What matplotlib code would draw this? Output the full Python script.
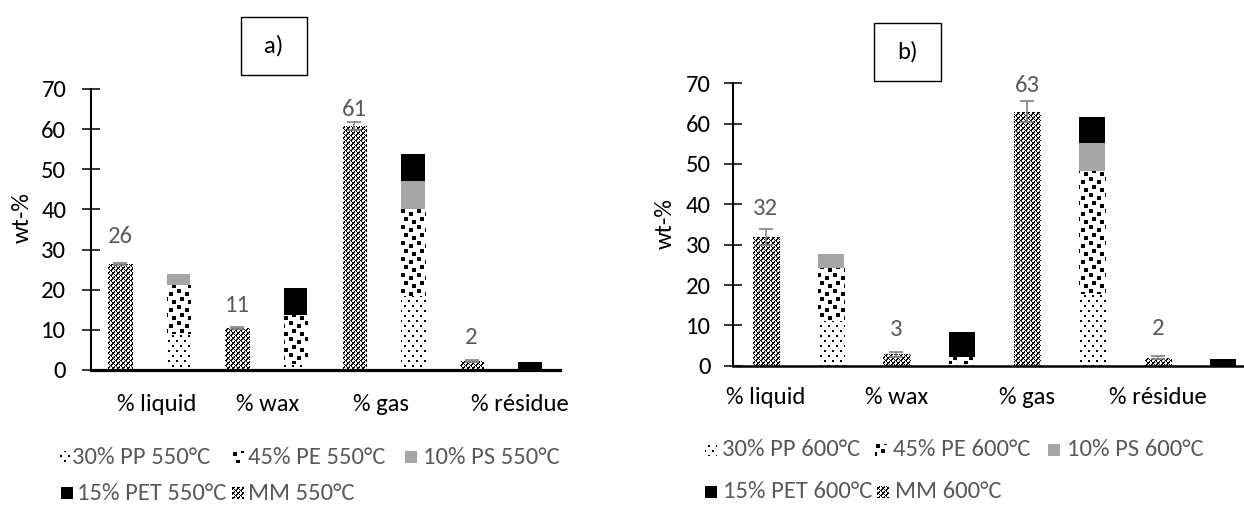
import matplotlib
matplotlib.use("Agg")
import matplotlib.pyplot as plt
import numpy as np
from matplotlib import font_manager as fm
from matplotlib.patches import Rectangle

# ---------------- data ----------------
categories = ['% liquid', '% wax', '% gas', '% résidue']
yticks = [0, 10, 20, 30, 40, 50, 60, 70]

# panel a) 550 °C
a_mm = [26.4, 10.4, 60.8, 2.3]
a_mm_err = [0.3, 0.3, 1.0, 0.3]
a_mm_labels = ['26', '11', '61', '2']
a_pp = [9.3, 1.7, 18.8, 0.0]
a_pe = [11.9, 12.1, 21.4, 0.0]
a_ps = [2.8, 0.0, 7.0, 0.0]
a_pet = [0.0, 6.7, 6.5, 1.9]
a_legend = ['30% PP 550°C', '45% PE 550°C', '10% PS 550°C', '15% PET 550°C', 'MM 550°C']

# panel b) 600 °C
b_mm = [32.0, 2.8, 63.0, 2.0]
b_mm_err = [2.0, 0.7, 2.6, 0.3]
b_mm_labels = ['32', '3', '63', '2']
b_pp = [11.3, 0.6, 18.0, 0.0]
b_pe = [13.0, 1.5, 30.3, 0.0]
b_ps = [3.4, 0.0, 6.8, 0.0]
b_pet = [0.0, 6.2, 6.5, 1.7]
b_legend = ['30% PP 600°C', '45% PE 600°C', '10% PS 600°C', '15% PET 600°C', 'MM 600°C']

# ---------------- style ----------------
names = {f.name for f in fm.fontManager.ttflist}
FONT = 'Carlito' if 'Carlito' in names else 'Lato'
plt.rcParams['font.family'] = [FONT, 'DejaVu Sans']

W, H, DPI = 1244, 508, 100
PX2PT = 72.0 / DPI
PS_COLOR = '#a5a5a5'
PET_COLOR = '#000000'
GREY_TXT = '#595959'
ERR_COLOR = '#808080'

fig = plt.figure(figsize=(W / DPI, H / DPI), dpi=DPI)
fig.patch.set_facecolor('white')


def fit_size(text, target_px):
    t = fig.text(0, 0, text, fontsize=20)
    r = fig.canvas.get_renderer()
    w = t.get_window_extent(r).width
    t.remove()
    return 20 * target_px / w


FS = fit_size('30% PP 550°C', 138)


# ---------------- textures (pixel patterns) ----------------
def tile_pp():
    t = np.zeros((10, 8), bool)
    t[0:2, 0:2] = True
    t[5:7, 4:6] = True
    return t


def tile_pe():
    t = np.zeros((16, 16), bool)
    for r, c in [(1, 1), (4, 9), (9, 4), (12, 12)]:
        for dr in range(4):
            for dc in range(4):
                t[(r + dr) % 16, (c + dc) % 16] = True
    return t


def tile_mm():
    r, c = np.mgrid[0:5, 0:5]
    return (((r - c) % 5) == 0) | (((r + c) % 5) == 0) | (((r + c) % 5) == 1) & ((r % 2) == 0)


def full_texture(tile):
    th, tw = tile.shape
    big = np.tile(tile, (H // th + 2, W // tw + 2))[:H, :W]
    img = np.where(big[..., None], 0, 255).astype(np.uint8)
    return np.repeat(img, 3, axis=2)


TEX = {'pp': full_texture(tile_pp()), 'pe': full_texture(tile_pe()),
       'mm': full_texture(tile_mm())}


def texture_bars(container, key):
    for p in container.patches:
        if p.get_height() <= 0:
            continue
        im = fig.figimage(TEX[key], 0, 0, zorder=1, origin='upper')
        im.set_clip_path(p)


def make_axes(l, t, r, b):
    ax = fig.add_axes([l / W, (H - b) / H, (r - l) / W, (b - t) / H])
    ax.set_facecolor('none')
    ax.set_zorder(2)
    return ax


def draw_panel(ax, mm, mm_err, mm_labels, pp, pe, ps, pet, label_off_px,
               tick_shift, xpad, ypad, bottom_lw):
    x = np.arange(len(categories))
    w = 0.2
    ax.set_xlim(-0.5, len(categories) - 0.5)
    ax.set_ylim(0, 70)

    c_mm = ax.bar(x - 0.25, mm, w, color='none', edgecolor='none')
    texture_bars(c_mm, 'mm')
    pp = np.array(pp); pe = np.array(pe); ps = np.array(ps); pet = np.array(pet)
    c_pp = ax.bar(x + 0.25, pp, w, color='none', edgecolor='none')
    texture_bars(c_pp, 'pp')
    c_pe = ax.bar(x + 0.25, pe, w, bottom=pp, color='none', edgecolor='none')
    texture_bars(c_pe, 'pe')
    ax.bar(x + 0.25, ps, w, bottom=pp + pe, color=PS_COLOR, edgecolor='none')
    ax.bar(x + 0.25, pet, w, bottom=pp + pe + ps, color=PET_COLOR, edgecolor='none')

    ax.errorbar(x - 0.25, mm, yerr=mm_err, fmt='none', ecolor=ERR_COLOR,
                elinewidth=1.2, capsize=5, capthick=1.2, zorder=5)
    for xi, v, lbl, off in zip(x, mm, mm_labels, label_off_px):
        ax.annotate(lbl, xy=(xi - 0.25, v), xytext=(0, off * PX2PT),
                    textcoords='offset points', ha='center', va='center',
                    color=GREY_TXT, fontsize=FS)

    for s in ('top', 'right'):
        ax.spines[s].set_visible(False)
    ax.spines['left'].set_linewidth(1.5)
    ax.spines['bottom'].set_linewidth(bottom_lw)
    ax.spines['left'].set_zorder(3)
    ax.set_yticks(yticks)
    ax.set_xticks(x + np.array(tick_shift), categories)
    ax.tick_params(axis='y', direction='inout', length=13, width=1.1,
                   pad=ypad, labelsize=FS, labelcolor='black')
    ax.tick_params(axis='x', length=0, pad=xpad, labelsize=FS, labelcolor='black')


def legend(entries, keys, positions):
    # positions: (marker_left, text_left, y_center) in pixels from top-left
    for lbl, key, (ml, tl, yc) in zip(entries, keys, positions):
        s = 12
        top = int(round(yc - s / 2))
        left = int(round(ml))
        if key in TEX:
            arr = TEX[key][top:top + s, left:left + s]
        else:
            col = 0 if key == 'pet' else 165
            arr = np.full((s, s, 3), col, np.uint8)
        fig.figimage(arr, left, H - (top + s), zorder=1, origin='upper')
        fig.text(tl / W, (H - yc) / H, lbl, ha='left', va='center',
                 color=GREY_TXT, fontsize=FS)


def title_box(text, l, t, r, b):
    fig.patches.append(Rectangle((l / W, (H - b) / H), (r - l) / W, (b - t) / H,
                                 transform=fig.transFigure, fill=False,
                                 edgecolor='black', linewidth=1.0, zorder=3))
    fig.text((l + r) / 2 / W, (H - (t + b) / 2) / H, text, ha='center',
             va='center', fontsize=FS, color='black')


# ---------------- panel a ----------------
ax_a = make_axes(90.6, 89.0, 559.5, 370.0)
draw_panel(ax_a, a_mm, a_mm_err, a_mm_labels, a_pp, a_pe, a_ps, a_pet,
           label_off_px=[28, 23, 16.7, 23.5], tick_shift=[0.06, 0.01, -0.02, 0.16],
           xpad=17, ypad=11, bottom_lw=2.3)
fig.text(22.5 / W, (H - 217.5) / H, 'wt-%', rotation=90, ha='center',
         va='center', fontsize=FS, color='black')
title_box('a)', 240.5, 17.3, 307.0, 75.0)
legend(a_legend, ['pp', 'pe', 'ps', 'pet', 'mm'],
       [(58, 72, 457), (232, 248, 457), (405, 423, 457),
        (61, 77, 493), (232, 248, 493)])

# ---------------- panel b ----------------
ax_b = make_axes(733.2, 83.3, 1255.6, 365.7)
draw_panel(ax_b, b_mm, b_mm_err, b_mm_labels, b_pp, b_pe, b_ps, b_pet,
           label_off_px=[27.7, 25, 26, 28.7], tick_shift=[-0.25, -0.25, -0.25, -0.25],
           xpad=15, ypad=9.5, bottom_lw=1.8)
fig.text(665.7 / W, (H - 224) / H, 'wt-%', rotation=90, ha='center',
         va='center', fontsize=FS, color='black')
title_box('b)', 873.5, 23.3, 940.8, 81.0)
legend(b_legend, ['pp', 'pe', 'ps', 'pet', 'mm'],
       [(705, 722, 450), (875, 893, 450), (1048, 1067, 450),
        (705, 723, 492), (877, 895, 492)])

fig.savefig('out.png', dpi=DPI)
